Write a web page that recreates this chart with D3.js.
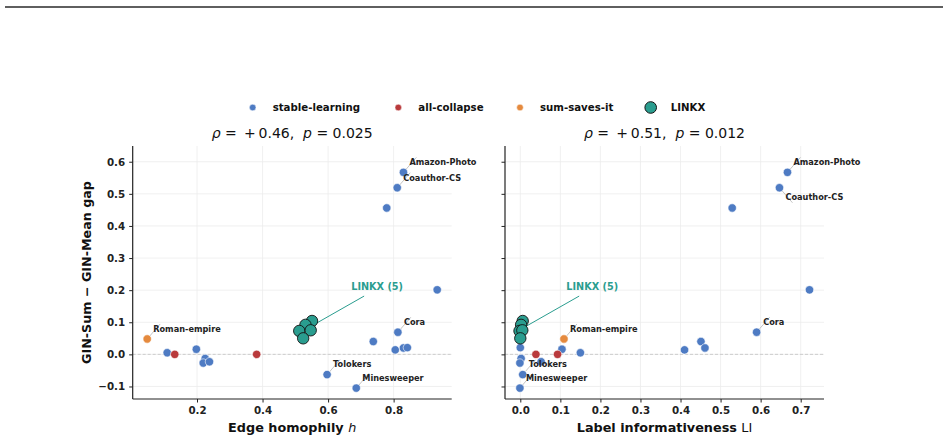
<!DOCTYPE html>
<html><head><meta charset="utf-8">
<script src="https://cdn.jsdelivr.net/npm/d3@7"></script>
<style>
html,body{margin:0;padding:0;background:#fff;}
svg{display:block;font-family:"DejaVu Sans",sans-serif;}
</style></head>
<body><svg id="chart" width="948" height="442"></svg>
<script>
// ---------- data ----------
const names = ["Amazon-Photo","Coauthor-CS","","","Cora","","","","","Roman-empire","","","","","","","","Tolokers","Minesweeper","","","","",""];
const groups = ["stable","stable","stable","stable","stable","stable","stable","stable","stable","sum","stable","collapse","stable","stable","stable","stable","collapse","stable","stable","linkx","linkx","linkx","linkx","linkx"];
const homophily = [0.830,0.811,0.779,0.933,0.813,0.738,0.805,0.830,0.842,0.048,0.109,0.132,0.198,0.225,0.219,0.238,0.382,0.597,0.686,0.551,0.531,0.512,0.547,0.524];
const labelInfo = [0.667,0.647,0.529,0.722,0.590,0.451,0.410,0.461,0.000,0.109,0.150,0.039,0.104,0.002,-0.001,0.052,0.093,0.006,-0.001,0.006,0.002,-0.002,0.005,0.000];
const gap = [0.567,0.519,0.456,0.201,0.069,0.040,0.014,0.020,0.021,0.048,0.005,0.000,0.016,-0.013,-0.027,-0.023,0.000,-0.063,-0.105,0.104,0.092,0.073,0.075,0.050];
const legendLabels = ["stable-learning","all-collapse","sum-saves-it","LINKX"];
const groupKeys = ["stable","collapse","sum","linkx"];
const yTicks = [-0.1,0.0,0.1,0.2,0.3,0.4,0.5,0.6];
const xTicksLeft = [0.2,0.4,0.6,0.8];
const xTicksRight = [0.0,0.1,0.2,0.3,0.4,0.5,0.6,0.7];
const stats = [{rho:"0.46", p:"0.025"},{rho:"0.51", p:"0.012"}];
const linkxLabel = "LINKX (5)";

// ---------- style ----------
const colors = {stable:"#4e7bc3", collapse:"#b93a3c", sum:"#e58a3e", linkx:"#2a9d8f"};
const yDomain = [-0.139, 0.649];
const labelOffsets = {
  left: {"Amazon-Photo":[6,-10],"Coauthor-CS":[6,-10],"Cora":[6,-10],"Roman-empire":[6,-10],"Tolokers":[6,-10],"Minesweeper":[6,-10]},
  right:{"Amazon-Photo":[6,-10],"Coauthor-CS":[6,9.5],"Cora":[6.5,-10],"Roman-empire":[6,-10],"Tolokers":[6,-10],"Minesweeper":[6,-10]}
};

const svg = d3.select("#chart");
// top rule
svg.append("line").attr("x1",5).attr("x2",943).attr("y1",7).attr("y2",7)
  .attr("stroke","#2a2a2a").attr("stroke-width",1.3);

const data = names.map((n,i)=>({name:n, group:groups[i], h:homophily[i], li:labelInfo[i], gap:gap[i]}));

function pad(ext){const r=ext[1]-ext[0];return [ext[0]-0.05*r, ext[1]+0.05*r];}

const panels = [
  {key:"left", acc:d=>d.h, range:[132.7,451.7], ticks:xTicksLeft, fmt:d3.format(".1f"), showY:true},
  {key:"right", acc:d=>d.li, range:[505,824], ticks:xTicksRight, fmt:d3.format(".1f"), showY:false}
];
const yRange=[399,146];
const y = d3.scaleLinear().domain(yDomain).range(yRange);

panels.forEach((P,pi)=>{
  const x = d3.scaleLinear().domain(pad(d3.extent(data,P.acc))).range(P.range);
  const g = svg.append("g");
  // grid
  g.selectAll(".gx").data(P.ticks).join("line")
    .attr("x1",d=>x(d)).attr("x2",d=>x(d)).attr("y1",yRange[0]).attr("y2",yRange[1])
    .attr("stroke","#ececec").attr("stroke-width",0.8);
  g.selectAll(".gy").data(yTicks).join("line")
    .attr("x1",P.range[0]).attr("x2",P.range[1]).attr("y1",d=>y(d)).attr("y2",d=>y(d))
    .attr("stroke","#ececec").attr("stroke-width",0.8);
  // zero line
  g.append("line").attr("x1",P.range[0]).attr("x2",P.range[1]).attr("y1",y(0)).attr("y2",y(0))
    .attr("stroke","#c8c8c8").attr("stroke-width",0.9).attr("stroke-dasharray","3,2");
  // axes
  const xa = g.append("g").attr("transform",`translate(0,${yRange[0]})`)
    .call(d3.axisBottom(x).tickValues(P.ticks).tickFormat(P.fmt).tickSize(3.5).tickPadding(4));
  const ya = g.append("g").attr("transform",`translate(${P.range[0]},0)`)
    .call(d3.axisLeft(y).tickValues(yTicks).tickFormat(P.showY?d3.format(".1f"):()=> "").tickSize(3.5).tickPadding(4));
  [xa,ya].forEach(a=>{
    a.select(".domain").attr("stroke","#222").attr("stroke-width",1.2);
    a.selectAll(".tick line").attr("stroke","#222").attr("stroke-width",1);
    a.selectAll(".tick text").attr("font-family","DejaVu Sans").attr("font-weight","bold")
      .attr("font-size",10.3).attr("fill","#222");
  });
  ya.selectAll(".tick text").text(d=>P.showY ? d3.format(".1f")(d).replace("-","\u2212") : "");
  xa.select(".domain").attr("d",`M${P.range[0]},0H${P.range[1]}`);
  ya.select(".domain").attr("d",`M0,${yRange[0]}V${yRange[1]}`);

  // leader lines for labels
  const offs = labelOffsets[P.key];
  const named = data.filter(d=>d.name);
  g.selectAll(".lead").data(named).join("line")
    .attr("x1",d=>x(P.acc(d))).attr("y1",d=>y(d.gap))
    .attr("x2",d=>x(P.acc(d))+13).attr("y2",d=>y(d.gap)+(offs[d.name][1]<0?-15:15))
    .attr("stroke","#aaa").attr("stroke-width",0.7);
  // LINKX leader
  const lk = data.filter(d=>d.group==="linkx");
  const cx = d3.mean(lk,d=>x(P.acc(d))), cy = d3.mean(lk,d=>y(d.gap));
  g.append("line").attr("x1",cx).attr("y1",cy).attr("x2",cx+58).attr("y2",cy-33)
    .attr("stroke",colors.linkx).attr("stroke-width",1);

  // points
  g.selectAll(".pt").data(data.filter(d=>d.group!=="linkx")).join("circle")
    .attr("cx",d=>x(P.acc(d))).attr("cy",d=>y(d.gap)).attr("r",4.2)
    .attr("fill",d=>colors[d.group]).attr("stroke","#fff").attr("stroke-width",0.6);
  g.selectAll(".lk").data(lk).join("circle")
    .attr("cx",d=>x(P.acc(d))).attr("cy",d=>y(d.gap)).attr("r",5.7)
    .attr("fill",colors.linkx).attr("stroke","#111").attr("stroke-width",0.9);

  // labels
  g.selectAll(".lab").data(named).join("text")
    .attr("x",d=>x(P.acc(d))+offs[d.name][0]).attr("y",d=>y(d.gap)+offs[d.name][1])
    .attr("dy","0.35em").attr("font-size",8.2).attr("font-weight","bold").attr("fill","#222")
    .text(d=>d.name);
  g.append("text").attr("x",cx+71).attr("y",cy-42.5).attr("dy","0.35em")
    .attr("text-anchor","middle").attr("font-size",9.7).attr("font-weight","bold")
    .attr("fill",colors.linkx).text(linkxLabel);

  // title
  const mid = (P.range[0]+P.range[1])/2;
  const t = g.append("text").attr("x",mid).attr("y",137.5).attr("text-anchor","middle")
    .attr("font-size",14).attr("fill","#111").attr("xml:space","preserve");
  t.append("tspan").attr("font-style","italic").text("ρ");
  t.append("tspan").text(" = \u2009+\u2009" + stats[pi].rho + ",  ");
  t.append("tspan").attr("font-style","italic").text("p");
  t.append("tspan").text(" = " + stats[pi].p);

  // x label
  const xl = g.append("text").attr("x",mid).attr("y",432).attr("text-anchor","middle")
    .attr("font-size",12.8).attr("font-weight","bold").attr("fill","#111");
  if(P.key==="left"){
    xl.append("tspan").text("Edge homophily ");
    xl.append("tspan").attr("font-style","italic").attr("font-weight","normal").text("h");
  } else {
    xl.append("tspan").text("Label informativeness ");
    xl.append("tspan").attr("font-weight","normal").text("LI");
  }
});

// y label
svg.append("text").attr("transform",`translate(91,${(yRange[0]+yRange[1])/2}) rotate(-90)`)
  .attr("text-anchor","middle").attr("font-size",12.7).attr("font-weight","bold").attr("fill","#111")
  .text("GIN-Sum \u2212 GIN-Mean gap");

// legend
const legX = [252.7, 398.3, 520, 650.7];
const lg = svg.append("g");
groupKeys.forEach((k,i)=>{
  lg.append("circle").attr("cx",legX[i]).attr("cy",107.5).attr("r",k==="linkx"?5.8:3.3)
    .attr("fill",colors[k]).attr("stroke",k==="linkx"?"#111":"#fff").attr("stroke-width",k==="linkx"?1:0.5);
  lg.append("text").attr("x",legX[i]+20).attr("y",107.5).attr("dy","0.35em")
    .attr("font-size",10.2).attr("font-weight","bold").attr("fill","#111").text(legendLabels[i]);
});
</script></body></html>
